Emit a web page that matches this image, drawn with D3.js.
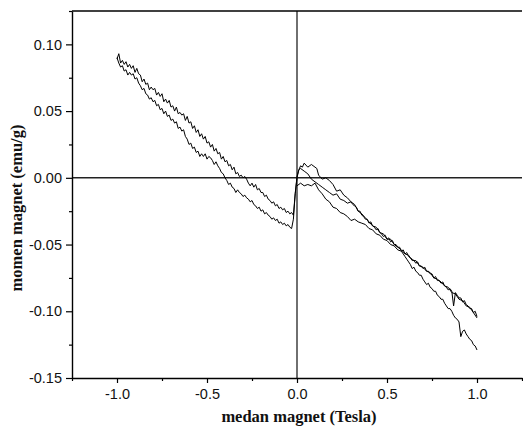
<!DOCTYPE html>
<html>
<head>
<meta charset="utf-8">
<script src="https://cdn.jsdelivr.net/npm/d3@7"></script>
<style>
  html, body { margin: 0; padding: 0; background: #fff; }
  svg { display: block; }
  .tick-label { font-family: "Liberation Sans", Arial, sans-serif; font-size: 14.5px; fill: #111; }
  .axis-title { font-family: "Liberation Serif", "DejaVu Serif", serif; font-weight: bold; font-size: 16.5px; fill: #111; }
  .curve { fill: none; stroke: #000; stroke-width: 1; stroke-linejoin: round; }
</style>
</head>
<body>
<svg id="chart" width="523" height="426"></svg>
<script>
// data: field (Tesla) vs moment (emu/g)
const xMajor = [-1.0, -0.5, 0.0, 0.5, 1.0];
const xMinor = [-1.25, -0.75, -0.25, 0.25, 0.75, 1.25];
const yMajor = [-0.15, -0.10, -0.05, 0.00, 0.05, 0.10];
const yMinor = [-0.125, -0.075, -0.025, 0.025, 0.075, 0.125];

// branch 1: upper negative side, jump at 0, middle positive curve
const branch1 = [
  [-1.00,0.089],[-0.99,0.093],[-0.98,0.086],[-0.97,0.088],[-0.96,0.085],[-0.95,0.087],[-0.94,0.083],
  [-0.93,0.085],[-0.92,0.082],[-0.91,0.084],[-0.90,0.079],[-0.89,0.082],[-0.88,0.078],[-0.87,0.077],
  [-0.86,0.072],[-0.85,0.074],[-0.84,0.070],[-0.83,0.071],[-0.82,0.066],[-0.81,0.068],[-0.80,0.066],
  [-0.79,0.067],[-0.78,0.062],[-0.77,0.064],[-0.76,0.061],[-0.75,0.063],[-0.74,0.057],[-0.73,0.059],
  [-0.72,0.056],[-0.71,0.058],[-0.70,0.053],[-0.69,0.054],[-0.68,0.050],[-0.67,0.053],[-0.66,0.048],
  [-0.65,0.049],[-0.64,0.047],[-0.63,0.048],[-0.62,0.043],[-0.61,0.046],[-0.60,0.041],[-0.59,0.042],
  [-0.58,0.037],[-0.57,0.039],[-0.56,0.034],[-0.55,0.036],[-0.54,0.031],[-0.53,0.033],[-0.52,0.029],
  [-0.51,0.031],[-0.50,0.026],[-0.49,0.027],[-0.48,0.023],[-0.47,0.025],[-0.46,0.020],[-0.45,0.022],
  [-0.44,0.018],[-0.43,0.019],[-0.42,0.014],[-0.41,0.016],[-0.40,0.012],[-0.39,0.013],[-0.38,0.009],
  [-0.37,0.010],[-0.36,0.006],[-0.35,0.008],[-0.34,0.003],[-0.33,0.004],[-0.32,0.001],[-0.31,0.002],
  [-0.30,0.000],[-0.29,0.001],[-0.28,-0.001],[-0.27,-0.004],[-0.26,-0.006],[-0.25,-0.004],[-0.24,-0.007],
  [-0.23,-0.005],[-0.22,-0.009],[-0.21,-0.008],[-0.20,-0.011],[-0.19,-0.011],[-0.18,-0.014],[-0.17,-0.013],
  [-0.16,-0.016],[-0.15,-0.017],[-0.14,-0.019],[-0.13,-0.018],[-0.12,-0.021],[-0.11,-0.020],[-0.10,-0.023],
  [-0.09,-0.022],[-0.08,-0.024],[-0.07,-0.023],[-0.06,-0.026],[-0.05,-0.025],[-0.04,-0.027],[-0.03,-0.026],
  [-0.02,-0.028],[-0.01,-0.012],[0.00,0.000],[0.01,0.006],[0.02,0.007],[0.04,0.005],[0.06,0.003],
  [0.08,-0.001],[0.10,-0.003],[0.12,-0.005],[0.14,-0.007],[0.16,-0.009],[0.18,-0.011],[0.20,-0.013],
  [0.22,-0.012],[0.24,-0.016],[0.26,-0.017],[0.28,-0.019],[0.30,-0.018],[0.31,-0.020],[0.32,-0.021],
  [0.33,-0.022],[0.34,-0.025],[0.35,-0.025],[0.36,-0.028],[0.37,-0.029],[0.38,-0.031],[0.39,-0.031],
  [0.40,-0.034],[0.41,-0.033],[0.42,-0.036],[0.43,-0.037],[0.44,-0.039],[0.45,-0.038],[0.46,-0.041],
  [0.47,-0.042],[0.48,-0.044],[0.49,-0.043],[0.50,-0.046],[0.51,-0.045],[0.52,-0.048],[0.53,-0.047],
  [0.54,-0.050],[0.55,-0.050],[0.56,-0.052],[0.57,-0.052],[0.58,-0.055],[0.59,-0.054],[0.60,-0.057],
  [0.61,-0.056],[0.62,-0.059],[0.63,-0.060],[0.64,-0.061],[0.65,-0.062],[0.66,-0.064],[0.67,-0.063],
  [0.68,-0.066],[0.69,-0.066],[0.70,-0.068],[0.71,-0.067],[0.72,-0.070],[0.73,-0.070],[0.74,-0.072],
  [0.75,-0.072],[0.76,-0.075],[0.77,-0.074],[0.78,-0.077],[0.79,-0.077],[0.80,-0.079],[0.81,-0.078],
  [0.82,-0.081],[0.83,-0.082],[0.84,-0.084],[0.85,-0.083],[0.86,-0.085],[0.87,-0.096],[0.88,-0.086],
  [0.89,-0.088],[0.90,-0.090],[0.91,-0.090],[0.92,-0.093],[0.93,-0.092],[0.94,-0.095],[0.95,-0.096],
  [0.96,-0.098],[0.97,-0.098],[0.98,-0.101],[0.99,-0.100],[1.00,-0.104]
];

// branch 2: lower negative side, jump at 0, peaked positive curve
const branch2 = [
  [-1.00,0.090],[-0.99,0.086],[-0.98,0.083],[-0.97,0.084],[-0.96,0.080],[-0.95,0.081],[-0.94,0.077],
  [-0.93,0.079],[-0.92,0.077],[-0.91,0.078],[-0.90,0.074],[-0.89,0.075],[-0.88,0.071],[-0.87,0.069],
  [-0.86,0.066],[-0.85,0.067],[-0.84,0.063],[-0.83,0.062],[-0.82,0.059],[-0.81,0.060],[-0.80,0.057],
  [-0.79,0.058],[-0.78,0.054],[-0.77,0.055],[-0.76,0.051],[-0.75,0.052],[-0.74,0.048],[-0.73,0.050],
  [-0.72,0.046],[-0.71,0.047],[-0.70,0.043],[-0.69,0.044],[-0.68,0.041],[-0.67,0.042],[-0.66,0.037],
  [-0.65,0.038],[-0.64,0.035],[-0.63,0.036],[-0.62,0.031],[-0.61,0.029],[-0.60,0.025],[-0.59,0.026],
  [-0.58,0.022],[-0.57,0.023],[-0.56,0.019],[-0.55,0.020],[-0.54,0.016],[-0.53,0.018],[-0.52,0.016],
  [-0.51,0.018],[-0.50,0.014],[-0.49,0.016],[-0.48,0.015],[-0.47,0.013],[-0.46,0.010],[-0.45,0.012],
  [-0.44,0.009],[-0.43,0.007],[-0.42,0.004],[-0.41,0.003],[-0.40,0.000],[-0.39,-0.002],[-0.38,-0.005],
  [-0.37,-0.004],[-0.36,-0.007],[-0.35,-0.008],[-0.34,-0.011],[-0.33,-0.009],[-0.32,-0.011],[-0.31,-0.012],
  [-0.30,-0.014],[-0.29,-0.013],[-0.28,-0.015],[-0.27,-0.016],[-0.26,-0.018],[-0.25,-0.017],[-0.24,-0.020],
  [-0.23,-0.021],[-0.22,-0.023],[-0.21,-0.022],[-0.20,-0.025],[-0.19,-0.024],[-0.18,-0.027],[-0.17,-0.026],
  [-0.16,-0.028],[-0.15,-0.029],[-0.14,-0.031],[-0.13,-0.030],[-0.12,-0.032],[-0.11,-0.031],[-0.10,-0.034],
  [-0.09,-0.033],[-0.08,-0.035],[-0.07,-0.034],[-0.06,-0.036],[-0.05,-0.035],[-0.04,-0.037],[-0.03,-0.038],
  [-0.02,-0.031],[-0.01,-0.012],[0.00,0.001],[0.01,0.006],[0.02,0.009],[0.03,0.008],[0.04,0.011],
  [0.06,0.008],[0.08,0.010],[0.10,0.008],[0.11,0.007],[0.12,0.002],[0.14,-0.001],[0.16,0.000],
  [0.18,-0.002],[0.20,-0.005],[0.22,-0.010],[0.24,-0.009],[0.26,-0.013],[0.28,-0.015],[0.30,-0.018],
  [0.32,-0.020],[0.34,-0.025],[0.36,-0.027],[0.38,-0.030],[0.40,-0.033],[0.42,-0.036],[0.44,-0.037],
  [0.46,-0.041],[0.48,-0.042],[0.50,-0.046],[0.52,-0.046],[0.54,-0.050],[0.56,-0.052],[0.58,-0.054],
  [0.60,-0.057],[0.62,-0.058],[0.64,-0.062],[0.66,-0.062],[0.68,-0.066],[0.70,-0.067],[0.72,-0.070],
  [0.74,-0.071],[0.76,-0.075],[0.78,-0.076],[0.80,-0.078],[0.82,-0.081],[0.84,-0.082],[0.86,-0.086],
  [0.88,-0.087],[0.90,-0.091],[0.92,-0.092],[0.94,-0.096],[0.96,-0.097],[0.98,-0.101],[1.00,-0.105]
];

// branch 3: lowest positive curve, ends near -0.13
const branch3 = [
  [0.00,-0.006],[0.02,-0.004],[0.04,-0.006],[0.06,-0.005],[0.08,-0.006],[0.10,-0.004],[0.12,-0.009],
  [0.14,-0.012],[0.16,-0.016],[0.18,-0.018],[0.20,-0.022],[0.22,-0.023],[0.24,-0.026],[0.26,-0.027],
  [0.28,-0.029],[0.30,-0.032],[0.32,-0.031],[0.34,-0.033],[0.36,-0.034],[0.38,-0.035],[0.40,-0.038],
  [0.42,-0.039],[0.44,-0.042],[0.46,-0.043],[0.48,-0.046],[0.50,-0.047],[0.52,-0.050],[0.54,-0.051],
  [0.56,-0.054],[0.58,-0.055],[0.60,-0.059],[0.61,-0.061],[0.62,-0.063],[0.63,-0.065],[0.64,-0.068],
  [0.65,-0.067],[0.66,-0.070],[0.67,-0.071],[0.68,-0.073],[0.69,-0.073],[0.70,-0.076],[0.71,-0.078],
  [0.72,-0.080],[0.73,-0.079],[0.74,-0.082],[0.75,-0.083],[0.76,-0.085],[0.77,-0.085],[0.78,-0.088],
  [0.79,-0.089],[0.80,-0.091],[0.81,-0.091],[0.82,-0.094],[0.83,-0.096],[0.84,-0.098],[0.85,-0.098],
  [0.86,-0.100],[0.87,-0.103],[0.88,-0.105],[0.89,-0.106],[0.90,-0.108],[0.91,-0.119],[0.92,-0.115],
  [0.93,-0.114],[0.94,-0.117],[0.95,-0.119],[0.96,-0.121],[0.97,-0.122],[0.98,-0.125],[0.99,-0.126],
  [1.00,-0.129]
];

const branches = [branch1, branch2, branch3];

const plot = { left: 72, right: 522, top: 11, bottom: 378 };
const svg = d3.select('#chart');

const x = d3.scaleLinear().domain([-1.25, 1.25]).range([plot.left, plot.right]);
const y = d3.scaleLinear().domain([-0.15, 0.125]).range([plot.bottom, plot.top]);

// zero lines
svg.append('line')
  .attr('x1', plot.left).attr('x2', plot.right)
  .attr('y1', y(0)).attr('y2', y(0))
  .attr('stroke', '#222').attr('stroke-width', 1.4);
svg.append('line')
  .attr('x1', x(0)).attr('x2', x(0))
  .attr('y1', plot.top).attr('y2', plot.bottom)
  .attr('stroke', '#333').attr('stroke-width', 1.4);

// curves
const line = d3.line().x(d => x(d[0])).y(d => y(d[1]));
svg.append('g').selectAll('path').data(branches).enter()
  .append('path').attr('class', 'curve').attr('d', line);

// axes: left + bottom with ticks, plain top border
const fmt2 = d3.format('.2f'), fmt1 = d3.format('.1f');

svg.append('g').attr('transform', `translate(${plot.left},0)`)
  .call(d3.axisLeft(y).tickValues(yMajor).tickSize(6).tickPadding(4)
    .tickFormat(d => fmt2(d).replace('−', '-')).tickSizeOuter(0));
svg.append('g').attr('transform', `translate(${plot.left},0)`)
  .call(d3.axisLeft(y).tickValues(yMinor).tickSize(3).tickFormat('').tickSizeOuter(0))
  .select('.domain').remove();

svg.append('g').attr('transform', `translate(0,${plot.bottom})`)
  .call(d3.axisBottom(x).tickValues(xMajor).tickSize(5).tickPadding(6)
    .tickFormat(d => fmt1(d).replace('−', '-')).tickSizeOuter(0));
svg.append('g').attr('transform', `translate(0,${plot.bottom})`)
  .call(d3.axisBottom(x).tickValues(xMinor).tickSize(3).tickFormat('').tickSizeOuter(0))
  .select('.domain').remove();

svg.selectAll('.tick line').attr('stroke', '#000').attr('stroke-width', 1.2);
svg.selectAll('.domain').attr('stroke', '#000').attr('stroke-width', 1.4);
svg.selectAll('.tick text').attr('class', 'tick-label').attr('fill', null);

svg.append('line')
  .attr('x1', plot.left).attr('x2', plot.right)
  .attr('y1', plot.top).attr('y2', plot.top)
  .attr('stroke', '#000').attr('stroke-width', 1.4);

// titles
svg.append('text').attr('class', 'axis-title')
  .attr('x', 299).attr('y', 422).attr('text-anchor', 'middle')
  .text('medan magnet (Tesla)');
svg.append('text').attr('class', 'axis-title')
  .attr('transform', 'translate(22,208) rotate(-90)').attr('text-anchor', 'middle')
  .text('momen magnet (emu/g)');
</script>
</body>
</html>
